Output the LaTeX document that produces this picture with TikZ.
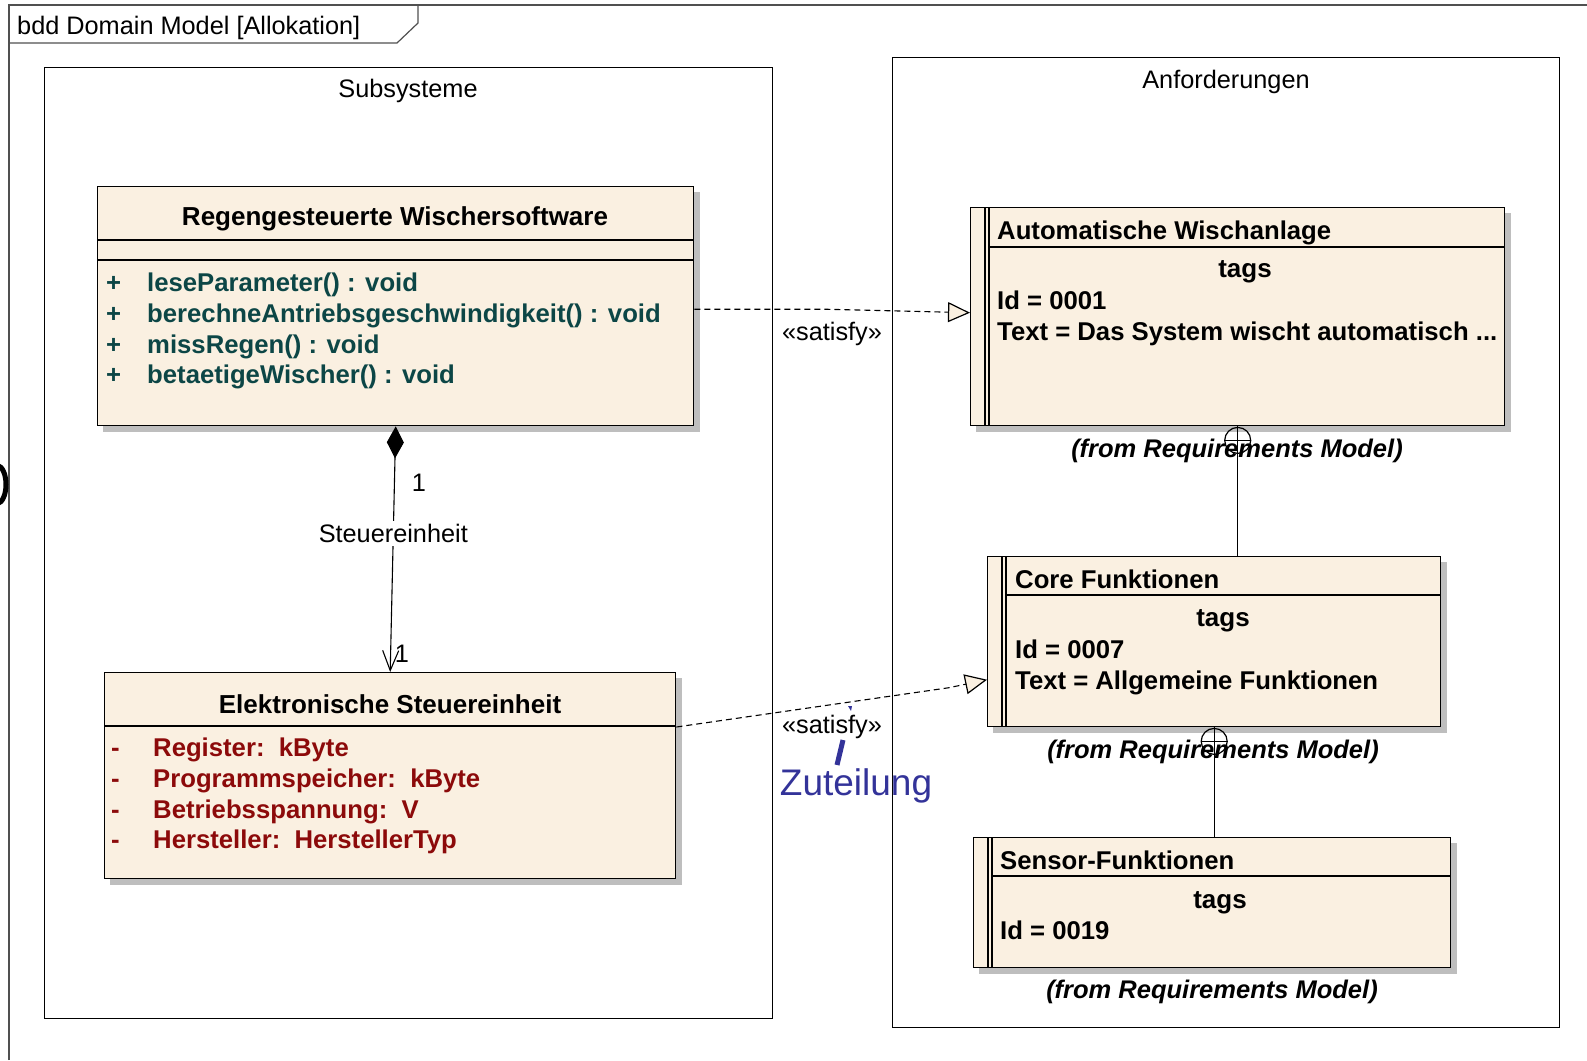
\documentclass[tikz,border=0pt]{standalone}
\usepackage{fontspec}
\setmainfont{Liberation Sans}
\usetikzlibrary{calc,arrows.meta,backgrounds}

\definecolor{boxfill}{HTML}{FAF0E1}
\definecolor{opcol}{HTML}{0C4646}
\definecolor{attcol}{HTML}{8C0A0A}
\definecolor{notecol}{HTML}{333399}
\definecolor{shadowcol}{HTML}{BEBEBE}
\definecolor{framecol}{HTML}{505050}

\tikzset{
  pkg/.style={draw=black, line width=1.4pt, anchor=north west, inner sep=0pt},
  classbox/.style={draw=black, line width=1.4pt, fill=boxfill, anchor=north west, inner sep=0pt},
  sep/.style={draw=black, line width=1.2pt},
  title/.style={font=\fontsize{26}{31}\selectfont\bfseries, inner sep=0pt, yshift=-3pt},
  entry/.style={font=\fontsize{25.7}{31}\selectfont\bfseries, anchor=west, inner sep=0pt,
    text height=18pt, text depth=5pt, yshift=-3pt},
  opline/.style={entry, text=opcol},
  attline/.style={entry, text=attcol},
  fromlabel/.style={font=\fontsize{25.5}{30}\selectfont\bfseries\itshape, inner sep=0pt, yshift=-3pt},
  plain/.style={font=\fontsize{25.3}{30}\selectfont, inner sep=0pt, yshift=-3pt},
  satisfy/.style={draw=black, line width=1.1pt, dash pattern=on 6pt off 4pt,
    -{Triangle[length=22pt,width=20pt,fill=boxfill,line width=1.2pt]}},
  nesting/.style={draw=black, line width=1.2pt},
}

\newcommand{\boxshadow}[1]{%
  \begin{pgfonlayer}{background}
    \fill[shadowcol] ($(#1.north west)+(6,6)$) rectangle ($(#1.south east)+(6,6)$);
  \end{pgfonlayer}}

\begin{document}
\begin{tikzpicture}[x=1pt,y=-1pt]
\useasboundingbox (0,0) rectangle (1587,1060);

% diagram frame and its heading
\draw[framecol, line width=1.2pt] (9,1060) -- (9,5) -- (1587,5);
\draw[framecol, line width=1.2pt] (9,43) -- (397,43) -- (418,23) -- (418,5);
\node[plain, anchor=west] (frametitle) at (17,25) {bdd Domain Model [Allokation]};

% cut-off glyph at the left border
\draw[line width=5pt] (-3,465) .. controls (9,468) and (9,501) .. (-3,504);

% packages
\node[pkg, minimum width=728pt, minimum height=951pt] (subsys) at (44,67) {};
\node[plain] (subsyslabel) at (408,88) {Subsysteme};
\node[pkg, minimum width=667pt, minimum height=970pt] (anf) at (892,57) {};
\node[plain] (anflabel) at (1226,79) {Anforderungen};

% ---------- block: Regengesteuerte Wischersoftware
\node[classbox, minimum width=596pt, minimum height=239pt] (regen) at (97,186) {};
\boxshadow{regen}
\draw[sep] (regen.west |- 0,240) -- (regen.east |- 0,240);
\draw[sep] (regen.west |- 0,260) -- (regen.east |- 0,260);
\node[title] (regentitle) at (395,216) {Regengesteuerte Wischersoftware};
\foreach \yy/\txt [count=\i] in {282/leseParameter() : void,
    313/berechneAntriebsgeschwindigkeit() : void,
    344/missRegen() : void,
    374/betaetigeWischer() : void}{
  \node[opline] (opvis\i) at (106,\yy) {+};
  \node[opline] (op\i) at (147,\yy) {\txt};
}

% ---------- block: Elektronische Steuereinheit
\node[classbox, minimum width=571pt, minimum height=206pt] (elek) at (104,672) {};
\boxshadow{elek}
\draw[sep] (elek.west |- 0,726) -- (elek.east |- 0,726);
\node[title] (elektitle) at (390,701) {Elektronische Steuereinheit};
\foreach \yy/\txt [count=\i] in {747/Register:\ \ kByte,
    778/Programmspeicher:\ \ kByte,
    809/Betriebsspannung:\ \ V,
    839/Hersteller:\ \ HerstellerTyp}{
  \node[attline] (attvis\i) at (111,\yy) {-};
  \node[attline] (att\i) at (153,\yy) {\txt};
}

% ---------- requirement: Automatische Wischanlage
\node[classbox, minimum width=534pt, minimum height=218pt] (auto) at (970,207) {};
\boxshadow{auto}
\draw[sep] (985,207) -- (985,425);
\draw[sep] (989,207) -- (989,425);
\draw[sep] (989,247) -- (auto.east |- 0,247);
\node[entry] (autotitle) at (997,230) {Automatische Wischanlage};
\node[title] (autotags) at (1245,269) {tags};
\node[entry] (autoid) at (997,300) {Id = 0001};
\node[entry] (autotext) at (997,331) {Text = Das System wischt automatisch ...};
\node[fromlabel] (autofrom) at (1237,448) {(from Requirements Model)};

% ---------- requirement: Core Funktionen
\node[classbox, minimum width=453pt, minimum height=170pt] (core) at (987,556) {};
\boxshadow{core}
\draw[sep] (1002,556) -- (1002,726);
\draw[sep] (1006,556) -- (1006,726);
\draw[sep] (1006,595) -- (core.east |- 0,595);
\node[entry] (coretitle) at (1015,579) {Core Funktionen};
\node[title] (coretags) at (1223,618) {tags};
\node[entry] (coreid) at (1015,649) {Id = 0007};
\node[entry] (coretext) at (1015,680) {Text = Allgemeine Funktionen};
\node[fromlabel] (corefrom) at (1213,749) {(from Requirements Model)};

% ---------- requirement: Sensor-Funktionen
\node[classbox, minimum width=477pt, minimum height=130pt] (sensor) at (973,837) {};
\boxshadow{sensor}
\draw[sep] (988,837) -- (988,967);
\draw[sep] (992,837) -- (992,967);
\draw[sep] (992,876) -- (sensor.east |- 0,876);
\node[entry] (sensortitle) at (1000,860) {Sensor-Funktionen};
\node[title] (sensortags) at (1220,900) {tags};
\node[entry] (sensorid) at (1000,930) {Id = 0019};
\node[fromlabel] (sensorfrom) at (1212,989) {(from Requirements Model)};

% ---------- composition Steuereinheit
\draw[line width=1.1pt, {Diamond[length=32pt,width=17pt]}-{Straight Barb[length=20pt,width=16pt,line width=1.1pt]}]
  (regen.south) -- (elek.north)
  node[plain, pos=0.437, fill=white, inner sep=3pt, yshift=3pt] (rolelabel) {Steuereinheit};
\node[plain] (multtop) at (419,480) {1};
\node[plain] (multbot) at (402,651) {1};

% ---------- requirement nesting
\draw[nesting] (auto.south) -- (auto.south |- core.north);
\draw[nesting] ($(auto.south)+(0,14)$) circle[radius=13];
\draw[nesting] ($(auto.south)+(-13,14)$) -- ($(auto.south)+(13,14)$);
\draw[nesting] (core.south) -- (core.south |- sensor.north);
\draw[nesting] ($(core.south)+(0,14)$) circle[radius=13];
\draw[nesting] ($(core.south)+(-13,14)$) -- ($(core.south)+(13,14)$);

% ---------- satisfy dependencies
\draw[satisfy] ($(regen.east)+(0,3)$) -- ($(regen.east)+(130,3)$) -- ($(auto.west)+(0,-4)$);
\node[plain] (sat1) at (832,331) {«satisfy»};
\draw[satisfy] ($(elek.north east)+(0,55)$) -- ($(core.west)+(-38,46)$) -- ($(core.west)+(0,38)$);
\node[plain] (sat2) at (832,724) {«satisfy»};

% ---------- allocation note
\fill[notecol] (848,706) -- (852,706) -- (851,711) -- cycle;
\draw[notecol, line width=5pt] (843,740) -- (837,765);
\node[font=\fontsize{37}{44}\selectfont, text=notecol, anchor=base, inner sep=0pt] (zuteilung) at (856,795) {Zuteilung};

\end{tikzpicture}
\end{document}
